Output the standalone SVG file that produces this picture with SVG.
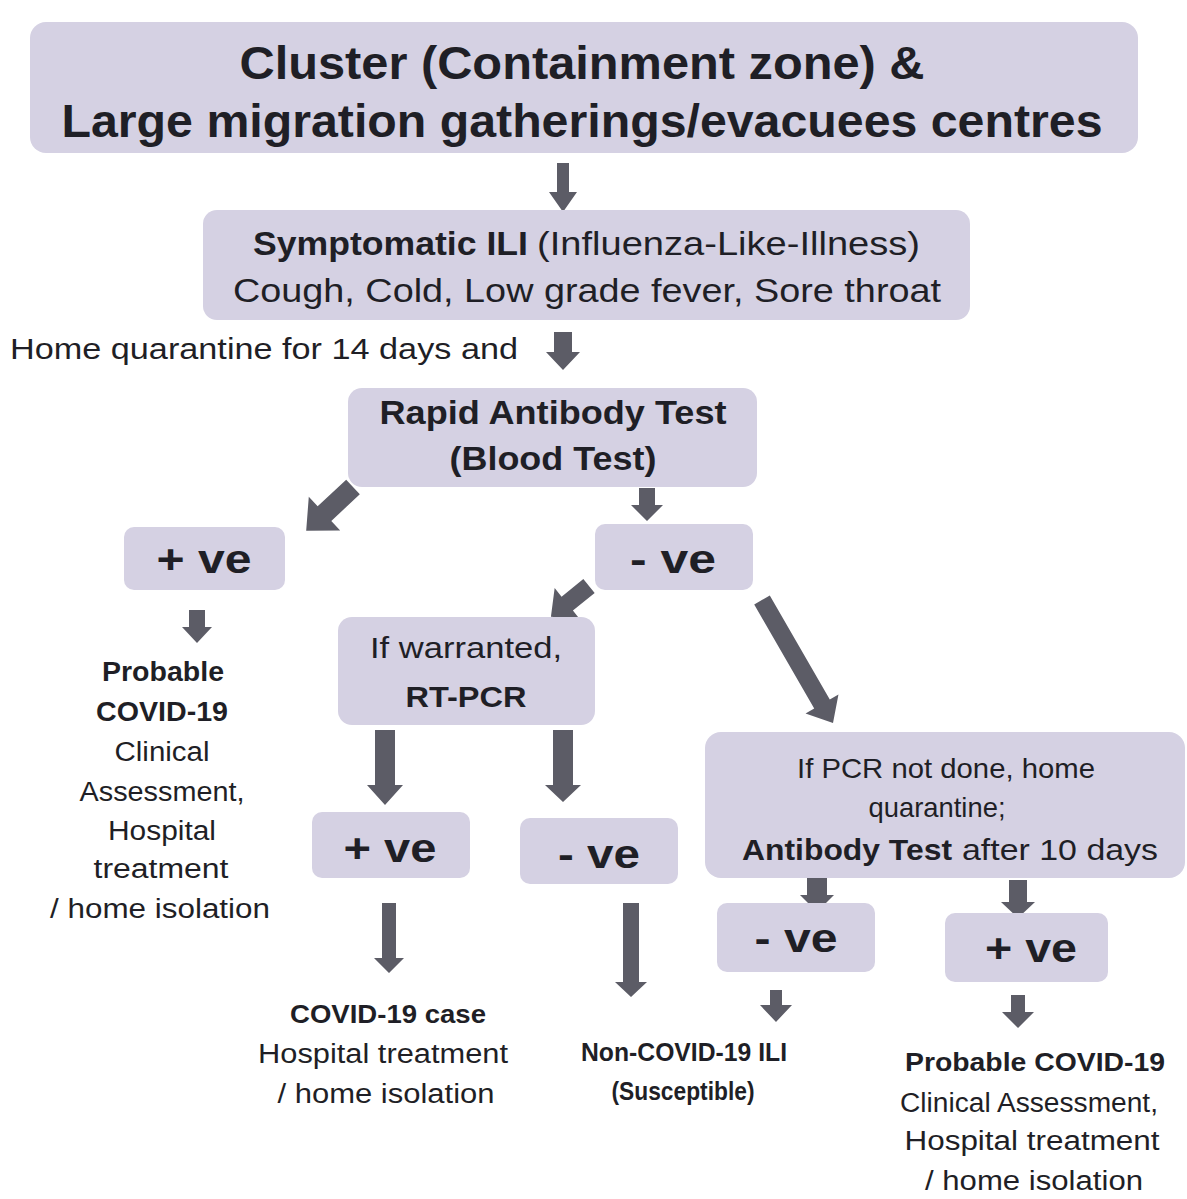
<svg xmlns="http://www.w3.org/2000/svg" width="1187" height="1199" viewBox="0 0 1187 1199">
<style>
.box{fill:#d5d1e3;}
.arr{fill:#5c5c66;}
text{font-family:"Liberation Sans",Arial,sans-serif;fill:#1f1f26;}
.b{font-weight:bold;}
.c{text-anchor:middle;}
</style>
<rect width="1187" height="1199" fill="#ffffff"/>
<g id="connectors">
<polygon class="arr" points="557,163 569,163 569,192 577,192 563,212 549,192 557,192"/>
<polygon class="arr" points="554,332 572,332 572,352 580,352 563,370 546,352 554,352"/>
<polygon class="arr" points="639,488 655,488 655,505 663,505 647,521 631,505 639,505"/>
<polygon class="arr" points="189,610 205,610 205,627 212,627 197,643 182,627 189,627"/>
<polygon class="arr" points="375,730 395,730 395,785 403,785 385,805 367,785 375,785"/>
<polygon class="arr" points="553,730 573,730 573,785 581,785 563,802 545,785 553,785"/>
<polygon class="arr" points="382,903 396,903 396,958 404,958 389,973 374,958 382,958"/>
<polygon class="arr" points="623,903 639,903 639,982 647,982 631,997 615,982 623,982"/>
<polygon class="arr" points="807,878 827,878 827,895 834,895 817,912 800,895 807,895"/>
<polygon class="arr" points="1009,880 1027,880 1027,902 1035,902 1018,918 1001,902 1009,902"/>
<polygon class="arr" points="770,990 782,990 782,1005 792,1005 776,1022 760,1005 770,1005"/>
<polygon class="arr" points="1011,995 1025,995 1025,1012 1034,1012 1018,1028 1002,1012 1011,1012"/>
<polygon class="arr" transform="translate(353,487) rotate(47)" points="-10,0 10,0 10,39 23,39 0,64 -23,39 -10,39"/>
<polygon class="arr" transform="translate(589,586) rotate(51)" points="-9,0 9,0 9,28 20,28 0,49 -20,28 -9,28"/>
<polygon class="arr" transform="translate(762,600) rotate(-30)" points="-9,0 9,0 9,120 19,120 0,142 -19,120 -9,120"/>
</g>
<g id="n-top">
<rect class="box" x="30" y="22" width="1108" height="131" rx="16"/>
<text class="b c" x="582" y="79" font-size="46" textLength="685" lengthAdjust="spacingAndGlyphs">Cluster (Containment zone) &amp;</text>
<text class="b c" x="582" y="137" font-size="46" textLength="1041" lengthAdjust="spacingAndGlyphs">Large migration gatherings/evacuees centres</text>
</g>
<g id="n-ili">
<rect class="box" x="203" y="210" width="767" height="110" rx="14"/>
<text x="253" y="255" font-size="33" class="b" textLength="275" lengthAdjust="spacingAndGlyphs">Symptomatic ILI</text>
<text x="537" y="255" font-size="33" textLength="383" lengthAdjust="spacingAndGlyphs">(Influenza-Like-Illness)</text>
<text x="233" y="302" font-size="33" textLength="708" lengthAdjust="spacingAndGlyphs">Cough, Cold, Low grade fever, Sore throat</text>
</g>
<g id="t-home">
<text x="10" y="359" font-size="30" textLength="508" lengthAdjust="spacingAndGlyphs">Home quarantine for 14 days and</text>
</g>
<g id="n-rapid">
<rect class="box" x="348" y="388" width="409" height="99" rx="14"/>
<text class="b c" x="553" y="424" font-size="33" textLength="347" lengthAdjust="spacingAndGlyphs">Rapid Antibody Test</text>
<text class="b c" x="553" y="470" font-size="33" textLength="207" lengthAdjust="spacingAndGlyphs">(Blood Test)</text>
</g>
<g id="n-pos1">
<rect class="box" x="124" y="527" width="161" height="63" rx="10"/>
<text class="b c" x="204" y="573" font-size="40" textLength="95" lengthAdjust="spacingAndGlyphs">+ ve</text>
</g>
<g id="n-neg1">
<rect class="box" x="595" y="524" width="158" height="66" rx="10"/>
<text class="b c" x="673" y="573" font-size="40" textLength="86" lengthAdjust="spacingAndGlyphs">- ve</text>
</g>
<g id="t-probable1">
<text class="b c" x="163" y="681" font-size="27" textLength="122" lengthAdjust="spacingAndGlyphs">Probable</text>
<text class="b c" x="162" y="721" font-size="27" textLength="132" lengthAdjust="spacingAndGlyphs">COVID-19</text>
<text class="c" x="162" y="761" font-size="27" textLength="95" lengthAdjust="spacingAndGlyphs">Clinical</text>
<text class="c" x="162" y="801" font-size="27" textLength="165" lengthAdjust="spacingAndGlyphs">Assessment,</text>
<text class="c" x="162" y="840" font-size="27" textLength="108" lengthAdjust="spacingAndGlyphs">Hospital</text>
<text class="c" x="161" y="878" font-size="27" textLength="135" lengthAdjust="spacingAndGlyphs">treatment</text>
<text class="c" x="160" y="918" font-size="27" textLength="220" lengthAdjust="spacingAndGlyphs">/ home isolation</text>
</g>
<g id="n-rtpcr">
<rect class="box" x="338" y="617" width="257" height="108" rx="14"/>
<text class="c" x="466" y="658" font-size="29" textLength="192" lengthAdjust="spacingAndGlyphs">If warranted,</text>
<text class="b c" x="466" y="707" font-size="29" textLength="121" lengthAdjust="spacingAndGlyphs">RT-PCR</text>
</g>
<g id="n-pos2">
<rect class="box" x="312" y="812" width="158" height="66" rx="10"/>
<text class="b c" x="390" y="862" font-size="40" textLength="93" lengthAdjust="spacingAndGlyphs">+ ve</text>
</g>
<g id="n-neg2">
<rect class="box" x="520" y="818" width="158" height="66" rx="10"/>
<text class="b c" x="599" y="868" font-size="40" textLength="82" lengthAdjust="spacingAndGlyphs">- ve</text>
</g>
<g id="n-pcrnot">
<rect class="box" x="705" y="732" width="480" height="146" rx="16"/>
<text class="c" x="946" y="778" font-size="28" textLength="298" lengthAdjust="spacingAndGlyphs">If PCR not done, home</text>
<text class="c" x="937" y="817" font-size="28" textLength="137" lengthAdjust="spacingAndGlyphs">quarantine;</text>
<text class="b" x="742" y="860" font-size="30" textLength="210" lengthAdjust="spacingAndGlyphs">Antibody Test</text>
<text x="962" y="860" font-size="30" textLength="196" lengthAdjust="spacingAndGlyphs">after 10 days</text>
</g>
<g id="n-neg3">
<rect class="box" x="717" y="903" width="158" height="69" rx="10"/>
<text class="b c" x="796" y="952" font-size="40" textLength="83" lengthAdjust="spacingAndGlyphs">- ve</text>
</g>
<g id="n-pos3">
<rect class="box" x="945" y="913" width="163" height="69" rx="10"/>
<text class="b c" x="1031" y="962" font-size="40" textLength="92" lengthAdjust="spacingAndGlyphs">+ ve</text>
</g>
<g id="t-case">
<text class="b c" x="388" y="1023" font-size="26" textLength="196" lengthAdjust="spacingAndGlyphs">COVID-19 case</text>
<text class="c" x="383" y="1063" font-size="27" textLength="250" lengthAdjust="spacingAndGlyphs">Hospital treatment</text>
<text class="c" x="386" y="1103" font-size="27" textLength="217" lengthAdjust="spacingAndGlyphs">/ home isolation</text>
</g>
<g id="t-noncovid">
<text class="b c" x="684" y="1061" font-size="25" textLength="206" lengthAdjust="spacingAndGlyphs">Non-COVID-19 ILI</text>
<text class="b c" x="683" y="1100" font-size="25" textLength="143" lengthAdjust="spacingAndGlyphs">(Susceptible)</text>
</g>
<g id="t-probable2">
<text class="b c" x="1035" y="1071" font-size="26" textLength="260" lengthAdjust="spacingAndGlyphs">Probable COVID-19</text>
<text class="c" x="1029" y="1112" font-size="27" textLength="258" lengthAdjust="spacingAndGlyphs">Clinical Assessment,</text>
<text class="c" x="1032" y="1150" font-size="27" textLength="255" lengthAdjust="spacingAndGlyphs">Hospital treatment</text>
<text class="c" x="1034" y="1190" font-size="27" textLength="218" lengthAdjust="spacingAndGlyphs">/ home isolation</text>
</g>
</svg>
